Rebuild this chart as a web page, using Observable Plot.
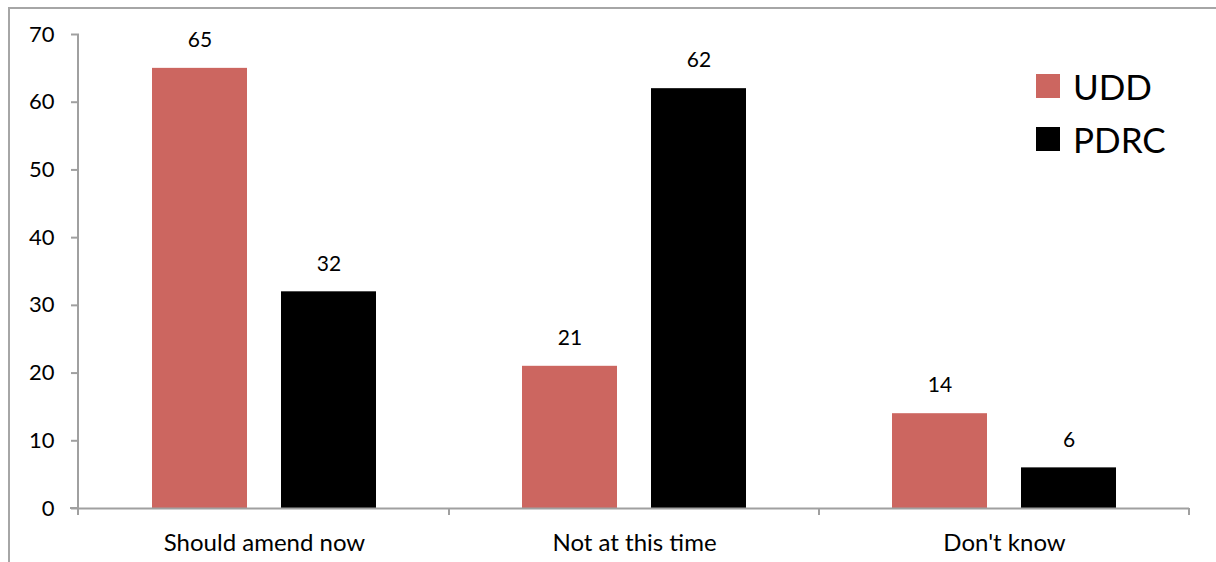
<!DOCTYPE html>
<html>
<head>
<meta charset="utf-8">
<script src="https://cdn.jsdelivr.net/npm/d3@7"></script>
<script src="https://cdn.jsdelivr.net/npm/@observablehq/plot@0.6"></script>
<style>
  html, body { margin: 0; padding: 0; background: #fff; width: 1216px; height: 562px; overflow: hidden; }
  #frame { position: absolute; left: 8px; top: 7px; width: 1300px; height: 700px;
           border-left: 2px solid #a6a6a6; border-top: 2px solid #a6a6a6; }
  #chart { position: absolute; left: 0; top: 0; }
  #legend { position: absolute; left: 1036px; top: 59px; font-family: Lato, "Open Sans", sans-serif; font-size: 35px; color: #000; }
  .item { display: flex; align-items: center; height: 53px; }
  .swatch { width: 24px; height: 24px; margin-right: 13px; }
</style>
</head>
<body>
<div id="frame"></div>
<div id="chart"></div>
<div id="legend"></div>
<script>
const categories = ["Should amend now", "Not at this time", "Don't know"];
const series = ["UDD", "PDRC"];
const uddValues = [65, 21, 14];
const pdrcValues = [32, 62, 6];
const yTicks = [0, 10, 20, 30, 40, 50, 60, 70];
const colors = ["#cc6660", "#000000"];

const data = [];
categories.forEach((c, i) => {
  data.push({category: c, series: "UDD", value: uddValues[i]});
  data.push({category: c, series: "PDRC", value: pdrcValues[i]});
});

const font = "Lato, 'Open Sans', sans-serif";
const plot = Plot.plot({
  width: 1216,
  height: 562,
  marginLeft: 78,
  marginRight: 26,
  marginTop: 34,
  marginBottom: 54,
  style: {fontFamily: font, fontSize: "21px", color: "#000", background: "transparent", overflow: "visible"},
  fx: {domain: categories, padding: 0, label: null, axis: null},
  x: {domain: series, paddingInner: 34 / 130, paddingOuter: 72.5 / 130, axis: null},
  y: {domain: [0, 70], axis: null},
  color: {domain: series, range: colors},
  marks: [
    Plot.barY(data, {fx: "category", x: "series", y: "value", fill: "series"}),
    Plot.text(data, {fx: "category", x: "series", y: "value", text: d => String(d.value), dy: -28, fontSize: 21, fill: "#000"}),
    Plot.ruleY([0], {stroke: "#a0a0a0", strokeWidth: 2}),
    Plot.axisY({ticks: yTicks, tickSize: 8, tickPadding: 17, stroke: "#a0a0a0", strokeWidth: 2, tickFormat: d => String(d), label: null, fontSize: 22}),
    Plot.axisFx({anchor: "bottom", tickSize: 0, tickPadding: 25, label: null, fontSize: 24})
  ]
});
document.getElementById("chart").appendChild(plot);

// Axis lines and category boundary ticks from the library's scales
const fx = plot.scale("fx");
const y = plot.scale("y");
const svg = d3.select(plot);
const left = fx.range[0];
const bw = fx.bandwidth;
const g = svg.append("g").attr("stroke", "#a0a0a0").attr("stroke-width", 2).attr("fill", "none");
g.append("line").attr("x1", left).attr("x2", left).attr("y1", y.apply(70)).attr("y2", y.apply(0) + 7);
categories.forEach(c => {
  const x1 = fx.apply(c) + bw;
  g.append("line").attr("x1", x1).attr("x2", x1).attr("y1", y.apply(0)).attr("y2", y.apply(0) + 7);
});
g.append("line").attr("x1", left - 8).attr("x2", left).attr("y1", y.apply(0)).attr("y2", y.apply(0));

const legend = document.getElementById("legend");
series.forEach((s, i) => {
  const item = document.createElement("div");
  item.className = "item";
  const sw = document.createElement("div");
  sw.className = "swatch";
  sw.style.background = colors[i];
  const t = document.createElement("span");
  t.textContent = s;
  item.appendChild(sw);
  item.appendChild(t);
  legend.appendChild(item);
});
</script>
</body>
</html>
